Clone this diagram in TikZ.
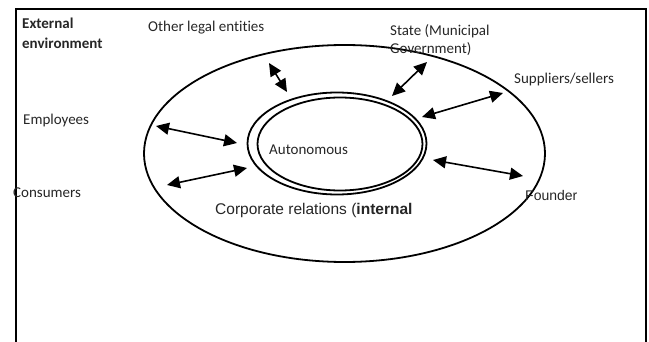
\documentclass[tikz,border=0pt]{standalone}
\usepackage{fontspec}
\setmainfont[Ligatures={NoCommon}]{Carlito}
\newfontfamily\arialfont{Liberation Sans}
\usetikzlibrary{arrows.meta}
\tikzset{
  lbl/.style={anchor=west,inner sep=0pt,font=\fontsize{15}{19}\selectfont,text=black!85},
  albl/.style={anchor=west,inner sep=0pt,text=black!85},
  ring/.style={line width=1.8pt},
  rel/.style={line width=1.6pt,{Triangle[length=13pt,width=12pt]}-{Triangle[length=13pt,width=12pt]}}
}
\begin{document}
\begin{tikzpicture}[x=1pt,y=-1pt]
\useasboundingbox (0,0) rectangle (649,342);
% outer frame
\draw[line width=1.8pt] (16,342) -- (16,9) -- (646,9) -- (646,342);
% ellipses
\draw[ring] (344.5,153.5) ellipse [x radius=200.5, y radius=108.5];
\draw[ring] (337,143.5) ellipse [x radius=89.5, y radius=51];
\draw[ring] (340,144) ellipse [x radius=82.5, y radius=46.5];
% labels
\node[lbl,align=left,font=\fontsize{15}{20}\selectfont\bfseries] (ext) at (22,33) {External\\environment};
\node[lbl] (legal) at (148,28) {Other legal entities};
\node[lbl,align=left,font=\fontsize{15}{18.5}\selectfont] (state) at (390,40) {State (Municipal\\Government)};
\node[lbl] (supp) at (514,80) {Suppliers/sellers};
\node[lbl] (empl) at (23,121) {Employees};
\node[lbl] (cons) at (13,193) {Consumers};
\node[lbl] (auto) at (269,150) {Autonomous};
\node[albl,font=\arialfont\fontsize{15.5}{18}\selectfont] (corp) at (215,210) {Corporate relations (\textbf{internal}};
\node[albl,font=\arialfont\fontsize{14}{17}\selectfont] (found) at (525,195) {Founder};
% arrow endpoints
\coordinate (l1) at (269,63);  \coordinate (l2) at (287,92);
\coordinate (s1) at (392,96);  \coordinate (s2) at (427,62);
\coordinate (p1) at (422,117); \coordinate (p2) at (503,93);
\coordinate (e1) at (156,126); \coordinate (e2) at (237,143);
\coordinate (c1) at (167,185); \coordinate (c2) at (247,168);
\coordinate (f1) at (433,160); \coordinate (f2) at (523,176);
\draw[rel] (l1) -- (l2);
\draw[rel] (s1) -- (s2);
\draw[rel] (p1) -- (p2);
\draw[rel] (e1) -- (e2);
\draw[rel] (c1) -- (c2);
\draw[rel] (f1) -- (f2);
\end{tikzpicture}
\end{document}
